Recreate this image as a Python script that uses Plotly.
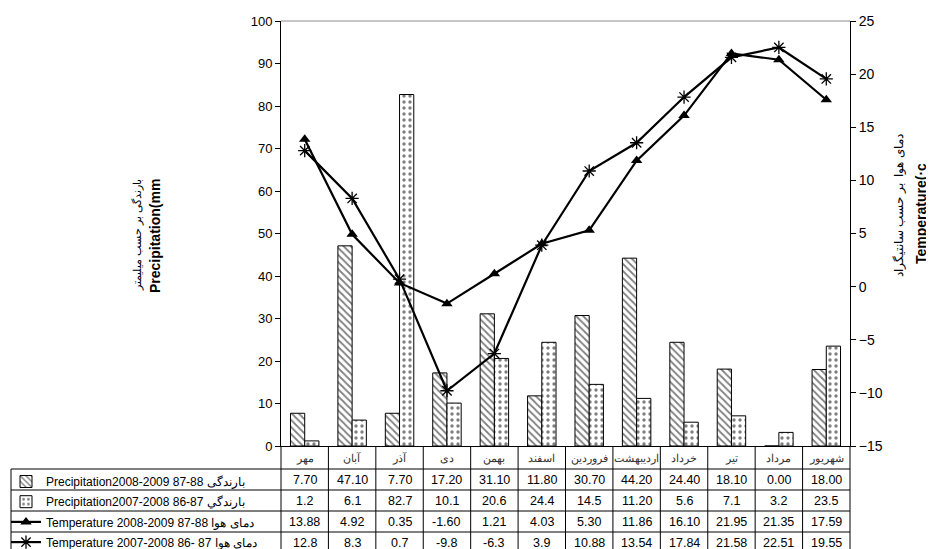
import plotly.graph_objects as go

months = ["مهر", "آبان", "آذر", "دی", "بهمن", "اسفند", "فروردین",
          "اردیبهشت", "خرداد", "تیر", "مرداد", "شهریور"]

precip_0809_txt = ["7.70", "47.10", "7.70", "17.20", "31.10", "11.80", "30.70",
                   "44.20", "24.40", "18.10", "0.00", "18.00"]
precip_0708_txt = ["1.2", "6.1", "82.7", "10.1", "20.6", "24.4", "14.5",
                   "11.20", "5.6", "7.1", "3.2", "23.5"]
temp_0809_txt = ["13.88", "4.92", "0.35", "-1.60", "1.21", "4.03", "5.30",
                 "11.86", "16.10", "21.95", "21.35", "17.59"]
temp_0708_txt = ["12.8", "8.3", "0.7", "-9.8", "-6.3", "3.9", "10.88",
                 "13.54", "17.84", "21.58", "22.51", "19.55"]

precip_0809 = [float(s) for s in precip_0809_txt]
precip_0708 = [float(s) for s in precip_0708_txt]
temp_0809 = [float(s) for s in temp_0809_txt]
temp_0708 = [float(s) for s in temp_0708_txt]

series_names = [
    "Precipitation2008-2009 87-88 بارندگی",
    "Precipitation2007-2008 86-87 بارندگي",
    "Temperature 2008-2009 87-88 دمای هوا",
    "Temperature 2007-2008 86- 87 دمای هوا",
]

left_ticks = list(range(0, 101, 10))
right_ticks = list(range(-15, 26, 5))

FONT = "Arial, 'Liberation Sans', sans-serif"

# plot-area geometry in reference pixels
L, R, T, B = 281, 850, 21, 446
W, H = 934, 549
OFF = 8  # page body margin shifts the figure by this many pixels


def xp(px):
    return (px - L) / (R - L)


def yp(py):
    return (B - py) / (B - T)


fig = go.Figure()

fig.add_trace(go.Bar(
    x=months, y=precip_0809, name=series_names[0], legendgroup="a",
    marker=dict(color="white", line=dict(color="black", width=1),
                pattern=dict(shape="\\", fgcolor="black", bgcolor="white",
                             size=5, solidity=0.35)),
))
fig.add_trace(go.Bar(
    x=months, y=precip_0708, name=series_names[1], legendgroup="b",
    marker=dict(color="white", line=dict(color="black", width=1),
                pattern=dict(shape=".", fgcolor="black", bgcolor="white",
                             size=6, solidity=0.25)),
))
fig.add_trace(go.Scatter(
    x=months, y=temp_0809, name=series_names[2], legendgroup="c", yaxis="y2",
    mode="lines+markers",
    line=dict(color="black", width=2.2),
    marker=dict(symbol="triangle-up", size=10, color="black"),
))
fig.add_trace(go.Scatter(
    x=months, y=temp_0708, name=series_names[3], legendgroup="d", yaxis="y2",
    mode="lines+markers",
    line=dict(color="black", width=2.2),
    marker=dict(symbol="asterisk-open", size=11, color="black",
                line=dict(color="black", width=1.3)),
))

# ---- table drawn below the plot area ----
row_tops = [469, 490, 511, 532, 553]
col_edges = [L + (R - L) * i / len(months) for i in range(len(months) + 1)]
line_style = dict(color="black", width=1)
shapes = []
for y in row_tops:
    shapes.append(dict(type="line", xref="paper", yref="paper",
                       x0=xp(11), x1=xp(R), y0=yp(y), y1=yp(y), line=line_style))
for xe in col_edges:
    shapes.append(dict(type="line", xref="paper", yref="paper",
                       x0=xp(xe), x1=xp(xe), y0=yp(B), y1=yp(553), line=line_style))
shapes.append(dict(type="line", xref="paper", yref="paper",
                   x0=xp(11), x1=xp(11), y0=yp(469), y1=yp(553), line=line_style))
shapes.append(dict(type="line", xref="paper", yref="paper",
                   x0=0, x1=1, y0=1, y1=1, line=dict(color="#8c8c8c", width=1)))

annotations = []
for m in months:
    annotations.append(dict(x=m, xref="x", y=yp(458), yref="paper",
                            xanchor="center", yanchor="middle",
                            text=m, showarrow=False,
                            font=dict(family=FONT, size=10.5, color="#333")))
rows = [precip_0809_txt, precip_0708_txt, temp_0809_txt, temp_0708_txt]
for r, vals in enumerate(rows):
    yc = (row_tops[r] + row_tops[r + 1]) / 2
    for m, v in zip(months, vals):
        annotations.append(dict(x=m, xref="x", y=yp(yc), yref="paper",
                                xanchor="center", yanchor="middle",
                                text=v, showarrow=False,
                                font=dict(family=FONT, size=12.5, color="black")))

titles = [
    (137, 235, "بارندگی بر حسب میلیمتر", 11),
    (155, 236, "<b>Precipitation(mm</b>", 14),
    (899, 206, "دمای هوا  بر حسب سانتیگراد", 12),
    (921, 214, "<b>Temperature(·c</b>", 14),
]
for tx, ty, txt, sz in titles:
    annotations.append(dict(x=xp(tx), y=yp(ty), xref="paper", yref="paper",
                            xanchor="center", yanchor="middle", textangle=-90,
                            text=txt, showarrow=False,
                            font=dict(family=FONT, size=sz, color="black")))

fig.update_layout(
    width=W, height=H,
    margin=dict(l=L - OFF, r=W - R + OFF, t=T - OFF, b=H - B + OFF, pad=0,
                autoexpand=False),
    paper_bgcolor="white", plot_bgcolor="white",
    font=dict(family=FONT, color="black"),
    barmode="group", bargap=0.4, bargroupgap=0,
    showlegend=True,
    legend=dict(x=xp(6), y=yp(467), xanchor="left", yanchor="top",
                font=dict(family=FONT, size=12, color="black"),
                bgcolor="rgba(0,0,0,0)", tracegroupgap=1.2, itemwidth=30,
                traceorder="grouped"),
    xaxis=dict(showticklabels=False, ticks="", showgrid=False, zeroline=False,
               showline=True, linecolor="black", linewidth=1,
               range=[-0.5, len(months) - 0.5], fixedrange=True),
    yaxis=dict(range=[0, 100], tickvals=left_ticks, ticks="outside", ticklen=5,
               tickcolor="black", showgrid=False, zeroline=False, showline=True,
               linecolor="black", linewidth=1,
               tickfont=dict(family=FONT, size=13, color="black")),
    yaxis2=dict(range=[-15, 25], tickvals=right_ticks, overlaying="y", side="right",
                ticks="outside", ticklen=5, tickcolor="black", showgrid=False,
                zeroline=False, showline=True, linecolor="black", linewidth=1,
                tickfont=dict(family=FONT, size=14, color="black")),
    shapes=shapes,
    annotations=annotations,
)

fig.write_html("out.html")
